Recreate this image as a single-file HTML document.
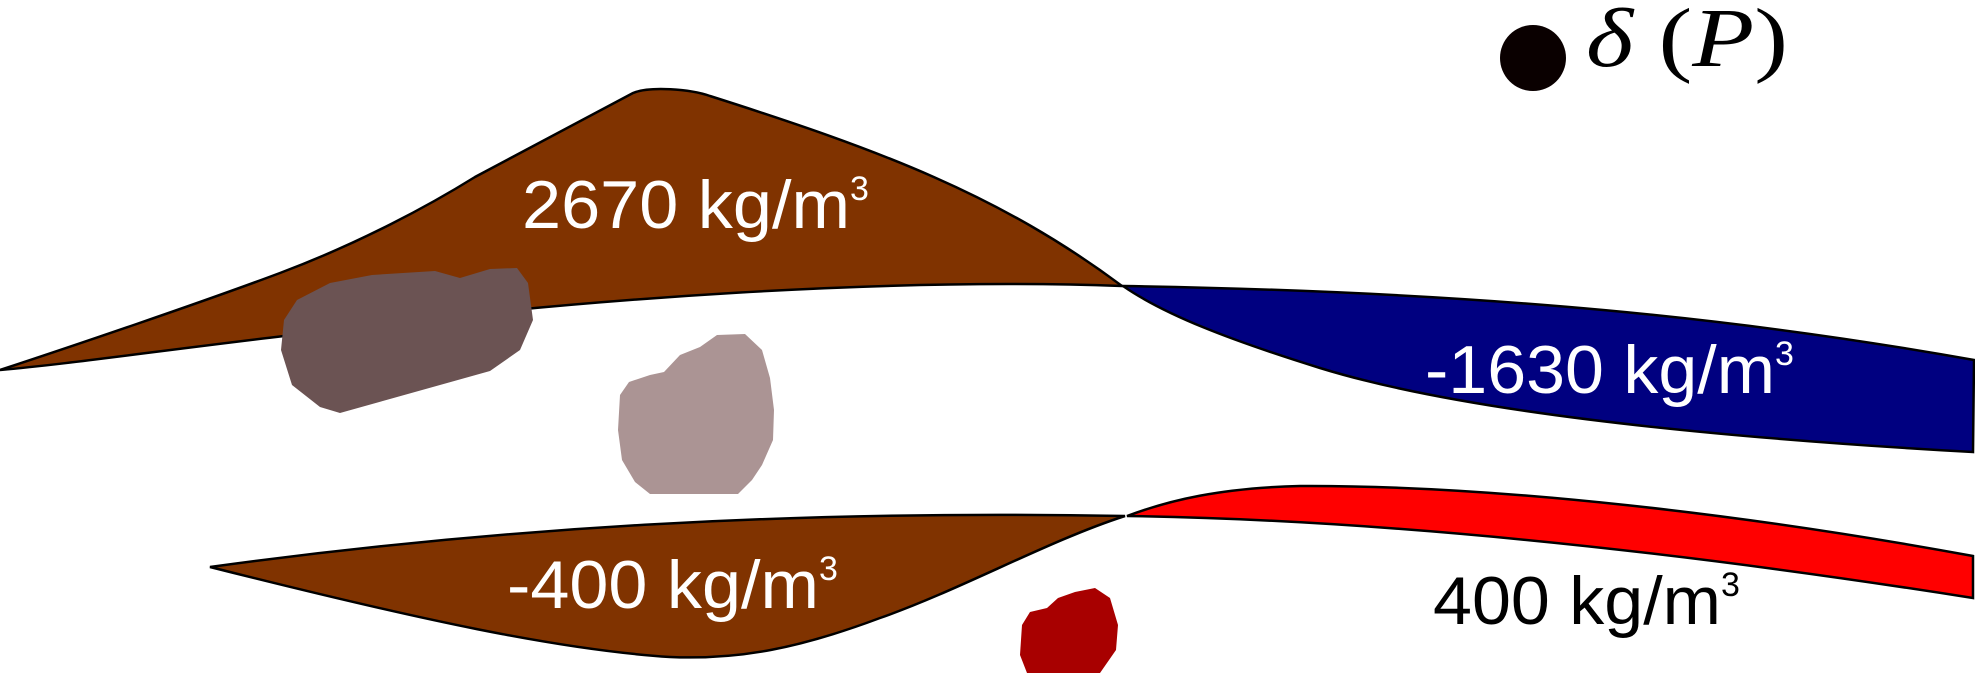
<!DOCTYPE html>
<html><head><meta charset="utf-8"><style>
html,body{margin:0;padding:0;background:#fff;}
svg{display:block;}
.lbl{font-family:"Liberation Sans",sans-serif;font-size:68px;}
</style></head><body>
<svg width="1975" height="673" viewBox="0 0 1975 673">
<path fill="#803300" stroke="#000" stroke-width="2.5"
 d="M0,370 C70,347 200,303 280,273 C360,243 430,205 475,177 L633,93 C650,86 690,89 710,96 C880,150 1000,195 1122,286 C900,278 600,295 284,336 C150,352 60,365 0,370 Z"/>
<path fill="#000080" stroke="#000" stroke-width="2.5"
 d="M1123,286 C1500,292 1750,320 1974,360 L1973,452 C1650,434 1440,405 1320,368 C1230,340 1165,315 1123,286 Z"/>
<path fill="#ff0000" stroke="#000" stroke-width="2.5"
 d="M1127,516 C1170,500 1220,488 1300,486 C1500,485 1750,515 1973,556 L1973,598 C1700,555 1400,520 1127,516 Z"/>
<path fill="#803300" stroke="#000" stroke-width="2.5"
 d="M210,567 C500,527 800,510 1125,516 C1050,540 960,590 880,618 C800,648 740,660 670,657 C560,650 420,620 210,567 Z"/>
<polygon fill="#6b5353"
 points="372,275 435,271 460,278 490,269 517,268 528,283 533,320 520,350 490,371 340,413 320,407 292,385 281,350 284,320 297,300 330,283"/>
<polygon fill="#ab9494"
 points="717,335 745,334 762,350 770,378 774,410 773,440 762,465 752,480 738,494 650,494 635,482 622,460 618,430 620,395 629,382 650,375 664,372 680,355 700,347"/>
<polygon fill="#a80000"
 points="1095,588 1110,598 1118,625 1116,650 1100,673 1027,673 1020,655 1022,625 1030,612 1047,608 1058,598 1075,592"/>
<text class="lbl" x="522" y="228" fill="#fff"><tspan textLength="328" lengthAdjust="spacingAndGlyphs">2670 kg/m</tspan><tspan font-size="34" dy="-28">3</tspan></text>
<text class="lbl" x="1425" y="393" fill="#fff"><tspan textLength="350" lengthAdjust="spacingAndGlyphs">-1630 kg/m</tspan><tspan font-size="34" dy="-28">3</tspan></text>
<text class="lbl" x="507" y="608" fill="#fff"><tspan textLength="312" lengthAdjust="spacingAndGlyphs">-400 kg/m</tspan><tspan font-size="34" dy="-28">3</tspan></text>
<text class="lbl" x="1433" y="624" fill="#000"><tspan textLength="288" lengthAdjust="spacingAndGlyphs">400 kg/m</tspan><tspan font-size="34" dy="-28">3</tspan></text>
<circle cx="1533" cy="58" r="33" fill="#0a0000"/>
<text x="1586" y="66" font-family="Liberation Serif,serif" font-size="84" font-style="italic" fill="#000" textLength="202" lengthAdjust="spacingAndGlyphs">δ <tspan font-style="normal">(</tspan>P<tspan font-style="normal">)</tspan></text>
</svg>
</body></html>
